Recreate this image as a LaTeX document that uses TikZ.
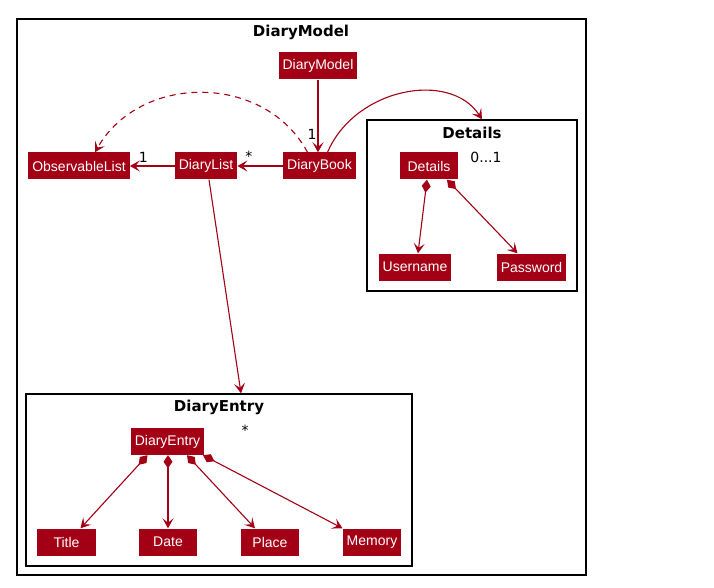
\documentclass[tikz,border=0pt]{standalone}
\usepackage{fontspec}
\setmainfont{Liberation Sans}
\newfontfamily\titlefont{DejaVu Sans}
\usetikzlibrary{arrows.meta}
\definecolor{umlred}{RGB}{163,0,22}
\tikzset{
  cls/.style={fill=umlred,text=white,inner xsep=4pt,inner ysep=0pt,minimum height=27pt,font=\fontsize{14}{16}\selectfont},
  pkg/.style={draw=black,line width=1.4pt,inner sep=0pt},
  pkgtitle/.style={font=\titlefont\bfseries\fontsize{15}{17}\selectfont},
  mult/.style={font=\titlefont\fontsize{14}{16}\selectfont,inner sep=0pt},
  head/.tip={Stealth[length=10pt,width=11pt,inset=4.5pt]},
  assoc/.style={draw=umlred,line width=1.1pt,-head},
  comp/.style={draw=umlred,line width=1.1pt,{Diamond[length=13pt,width=9pt]}-head}
}
\begin{document}
\begin{tikzpicture}[x=1pt,y=-1pt]
                \useasboundingbox[fill=white] (0,0) rectangle (714,588);
                % packages
                \node[pkg,minimum width=569pt,minimum height=556pt] (modelPkg) at (301.5,297) {};
                \node[pkgtitle] at (301,32) {DiaryModel};
                \node[pkg,minimum width=210pt,minimum height=171pt] (detailsPkg) at (472,205.5) {};
                \node[pkgtitle] at (472,133) {Details};
                \node[pkg,minimum width=386pt,minimum height=172pt] (entryPkg) at (219,480) {};
                \node[pkgtitle] at (219,407) {DiaryEntry};
                % classes
                \node[cls] (model) at (318,66) {DiaryModel};
                \node[cls] (book) at (319.5,166) {DiaryBook};
                \node[cls] (list) at (206,166) {DiaryList};
                \node[cls] (obs) at (79,166) {ObservableList};
                \node[cls,minimum width=58pt] (details) at (429,166) {Details};
                \node[cls] (user) at (415,267) {Username};
                \node[cls] (pass) at (531.5,267) {Password};
                \node[cls] (entry) at (167.5,441.5) {DiaryEntry};
                \node[cls,minimum width=59pt] (title) at (66.5,542) {Title};
                \node[cls,minimum width=58pt] (date) at (168,542) {Date};
                \node[cls,minimum width=58pt] (place) at (270,542) {Place};
                \node[cls,minimum width=58pt] (memory) at (372,542) {Memory};
                % links
                \draw[assoc] (model) -- (book.north -| model) node[mult,pos=0.75,left=1pt] {1};
                \draw[assoc] (book) -- (list) node[mult,pos=0.75,above=4pt] {*};
                \draw[assoc] (list) -- (obs) node[mult,pos=0.7,above=3pt] {1};
                \draw[assoc,dash pattern=on 6pt off 5pt] ([xshift=-12pt]book.north) .. controls (265,73) and (140,73) .. ([xshift=16pt]obs.north);
                \draw[assoc] ([xshift=8pt]book.north) .. controls (355,88) and (450,70) .. ([xshift=10pt]detailsPkg.north);
                \draw[assoc] ([xshift=3pt]list.south) -- ([xshift=22pt]entryPkg.north);
                \node[mult] at (486,157) {0...1};
                \node[mult] at (245,430) {*};
                \draw[comp] ([xshift=-2pt]details.south) -- ([xshift=3pt]user.north);
                \draw[comp] ([xshift=18pt]details.south) -- ([xshift=-14pt]pass.north);
                \draw[comp] ([xshift=-20pt]entry.south) -- ([xshift=14pt]title.north);
                \draw[comp] ([xshift=0.5pt]entry.south) -- (date.north);
                \draw[comp] ([xshift=19.5pt]entry.south) -- ([xshift=-15pt]place.north);
                \draw[comp] ([xshift=35.5pt]entry.south) -- (memory.north west);
            \end{tikzpicture}
\end{document}
